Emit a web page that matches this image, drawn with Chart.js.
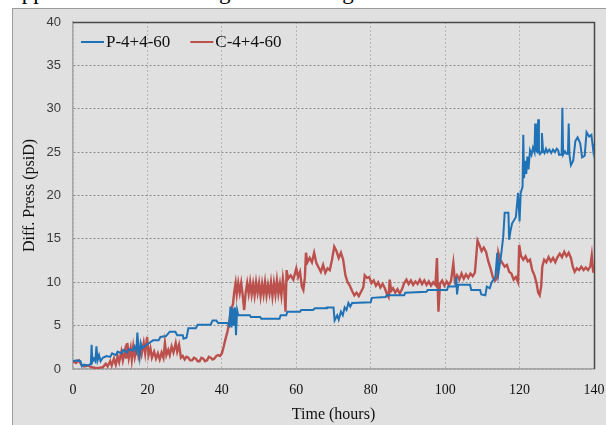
<!DOCTYPE html>
<html>
<head>
<meta charset="utf-8">
<script src="https://cdn.jsdelivr.net/npm/chart.js@4"></script>
<style>
  html, body { margin: 0; padding: 0; background: #ffffff; }
  body { width: 606px; height: 425px; position: relative; overflow: hidden; }
  #caption {
    position: absolute; left: 0; top: -21px; height: 26px; line-height: 26px;
    font: 23px "Liberation Serif", serif; color: #000; white-space: nowrap;
  }
  #frame {
    position: absolute; left: 12px; top: 8px; width: 600px; height: 430px;
    background: #e0e0e0; border: 1px solid #9c9c9c;
  }
  #c { position: absolute; left: 0; top: 0; }
</style>
</head>
<body>
<div id="caption">copper base without magnetic coverage.</div>
<div id="frame"></div>
<canvas id="c" width="606" height="425"></canvas>
<script>
// Series labels
const seriesNames = ['P-4+4-60', 'C-4+4-60'];

// P-4+4-60: time (hours) and differential pressure (psiD)
const pTime = [0, 1, 2, 2.4, 3, 4, 4.8, 5.0, 5.2, 5.6, 6.0, 6.3, 6.6, 7.0, 7.4, 8.0, 9.0, 10.0, 10.5, 11.5,
  12.0, 13.0, 13.5, 14.5, 15.0, 16.0, 16.5, 17.0, 17.3, 17.6, 17.9, 18.2, 18.6, 19.5, 20.5, 21.5, 23.0, 23.5, 25.0, 26.0,
  27.5, 28.0, 29.5, 29.7, 30.5, 31.0, 33.0, 33.5, 37.0, 37.5, 38.5, 39.0, 41.5, 42.0, 42.3, 42.6, 42.9, 43.2, 43.5, 43.8,
  44.1, 44.4, 47.5, 47.8, 50.3, 50.6, 55.5, 55.8, 57.3, 57.6, 61.0, 61.3, 64.5, 65.0, 68.0, 68.2, 70.0, 70.3, 71.0, 71.4,
  72.0, 72.5, 73.0, 73.5, 74.0, 74.5, 75.0, 80.0, 80.3, 84.0, 84.3, 89.0, 89.3, 95.0, 95.3, 100.5, 100.8, 102.8, 103.0, 103.2,
  103.5, 106.7, 107.0, 109.4, 109.7, 110.8, 111.2, 112.0, 112.5, 113.5, 114.0, 114.3, 115.0, 115.6, 116.0, 117.0, 117.2, 117.6, 118.0, 119.0,
  119.6, 120.0, 120.3, 120.8, 121.0, 121.2, 121.5, 121.8, 122.1, 122.4, 122.8, 123.2, 123.6, 124.0, 124.2, 124.4, 124.8, 125.0, 125.2, 125.5,
  125.8, 126.0, 126.3, 126.7, 127.1, 127.5, 128.0, 128.5, 129.0, 129.5, 130.0, 130.4, 130.6, 131.3, 131.5, 131.7, 132.2, 132.6, 133.0, 133.2,
  133.4, 133.8, 134.4, 135.0, 135.6, 136.3, 136.8, 137.5, 138.0, 138.7, 139.3, 139.8, 140.0];
const pVal = [0.9, 1.0, 0.9, 0.3, 0.5, 0.4, 0.6, 2.8, 0.8, 1.2, 0.9, 2.6, 1.0, 1.6, 0.9, 1.3, 1.5, 1.4, 1.8, 1.6,
  2.0, 1.8, 2.2, 1.9, 2.3, 2.1, 2.6, 2.0, 4.2, 2.4, 1.4, 3.0, 2.4, 2.7, 3.0, 3.3, 3.3, 3.7, 3.8, 4.3,
  4.3, 3.9, 3.9, 3.5, 3.6, 4.7, 4.7, 5.1, 5.1, 5.6, 5.6, 5.3, 5.3, 5.0, 7.2, 4.8, 7.0, 5.0, 7.1, 3.9,
  6.8, 6.2, 6.2, 6.0, 6.0, 5.8, 5.8, 6.2, 6.2, 6.6, 6.6, 6.8, 6.8, 7.0, 7.0, 7.1, 7.1, 5.6, 6.2, 5.7,
  6.6, 6.2, 7.1, 6.8, 7.6, 7.2, 7.6, 7.7, 8.2, 8.3, 8.5, 8.5, 8.8, 8.9, 9.1, 9.1, 9.5, 9.5, 10.6, 8.6,
  9.7, 9.7, 9.1, 9.1, 8.6, 8.5, 9.5, 9.3, 10.0, 10.6, 13.4, 11.0, 13.0, 15.2, 18.0, 18.0, 14.9, 16.0, 16.8, 17.5,
  20.3, 17.0, 20.3, 21.0, 27.0, 22.0, 24.0, 22.5, 24.5, 23.0, 25.2, 24.7, 25.5, 25.0, 28.3, 25.2, 25.0, 28.8, 25.2, 24.8,
  25.0, 27.2, 25.2, 24.9, 25.4, 25.0, 25.3, 24.9, 25.3, 25.0, 25.4, 25.2, 24.7, 24.7, 30.1, 24.7, 25.1, 24.8, 24.8, 28.3,
  24.7, 23.5, 24.0, 26.3, 26.7, 26.0, 24.4, 24.6, 27.3, 26.8, 27.0, 25.2, 26.0];

// C-4+4-60: time (hours) and differential pressure (psiD)
const cTime = [0, 0.8, 1.6, 2.2, 3.0, 4.0, 5.0, 6.5, 8.0, 8.8, 9.3, 10.0, 10.4, 11.0, 11.5, 12.0, 12.4, 13.0, 13.4, 14.0,
  14.3, 14.6, 15.0, 15.5, 15.8, 16.2, 16.6, 17.2, 17.6, 18.0, 18.4, 19.0, 19.4, 19.9, 20.3, 20.8, 21.2, 21.8, 22.3, 22.8,
  23.3, 23.8, 24.3, 24.7, 25.1, 25.6, 26.0, 26.5, 27.0, 27.6, 28.0, 28.5, 29.0, 29.5, 30.0, 30.5, 31.0, 31.5, 32.0, 32.5,
  33.0, 33.5, 34.0, 34.5, 35.0, 35.5, 36.0, 36.5, 37.0, 37.5, 38.0, 38.5, 39.0, 39.5, 40.0, 40.5, 41.0, 41.5, 42.0, 42.5,
  43.0, 43.3, 43.7, 44.0, 44.4, 44.8, 45.2, 45.6, 46.0, 46.4, 46.8, 47.2, 47.6, 48.0, 48.4, 48.8, 49.2, 49.6, 50.0, 50.4,
  50.8, 51.2, 51.6, 52.0, 52.4, 52.8, 53.2, 53.6, 54.0, 54.4, 54.8, 55.2, 55.6, 56.0, 56.4, 56.8, 57.1, 57.4, 57.8, 58.5,
  59.2, 60.0, 60.5, 61.0, 61.5, 61.9, 62.3, 62.6, 63.0, 63.6, 64.2, 64.8, 65.4, 66.0, 66.6, 67.2, 67.8, 68.4, 69.0, 69.6,
  70.2, 70.8, 71.4, 72.0, 72.6, 73.2, 73.8, 74.4, 75.0, 75.6, 76.2, 76.8, 77.4, 78.0, 78.4, 79.0, 79.6, 80.2, 80.8, 81.4,
  82.0, 82.6, 83.2, 83.8, 84.4, 84.8, 85.1, 85.5, 86.0, 86.6, 87.2, 87.8, 88.4, 89.0, 89.6, 90.2, 90.8, 91.4, 92.0, 92.6,
  93.2, 93.8, 94.4, 95.0, 95.6, 96.2, 96.8, 97.4, 97.8, 98.2, 98.6, 99.2, 99.8, 100.4, 101.0, 101.6, 102.2, 102.6, 103.2, 103.8,
  104.4, 105.0, 105.6, 106.2, 106.8, 107.4, 108.0, 108.7, 109.2, 109.8, 110.4, 111.0, 111.6, 112.2, 112.8, 113.4, 114.0, 114.3, 114.8, 115.4,
  116.0, 116.6, 117.2, 117.8, 118.4, 119.0, 119.6, 119.9, 120.4, 121.0, 121.6, 122.2, 122.8, 123.4, 124.0, 124.6, 125.0, 125.4, 125.8, 126.1,
  126.6, 127.2, 127.8, 128.4, 129.0, 129.6, 130.2, 130.8, 131.4, 132.0, 132.6, 133.2, 133.8, 134.3, 134.8, 135.4, 136.0, 136.6, 137.2, 137.8,
  138.4, 139.0, 139.4, 139.8, 140.0];
const cVal = [0.9, 0.7, 1.0, 0.5, 0.3, 0.4, 0.2, 0.1, 0.2, 0.6, 0.3, 0.9, 0.4, 1.2, 0.5, 1.5, 0.8, 2.0, 1.0, 2.2,
  1.2, 3.0, 1.3, 2.4, 1.1, 2.6, 1.4, 2.8, 1.5, 2.2, 1.6, 3.0, 1.8, 3.7, 1.6, 2.4, 1.3, 2.0, 1.2, 1.8,
  1.1, 1.9, 1.3, 3.0, 1.6, 2.2, 1.6, 2.6, 1.9, 3.0, 2.0, 2.8, 1.3, 1.5, 1.1, 1.4, 1.3, 1.0, 1.0, 1.3,
  1.2, 0.9, 0.9, 1.3, 1.2, 0.9, 1.0, 1.4, 1.3, 1.1, 1.2, 1.5, 1.6, 1.5, 1.8, 2.6, 3.5, 4.3, 5.5, 6.8,
  7.5, 8.8, 9.9, 8.6, 9.9, 8.8, 9.9, 8.5, 6.8, 8.8, 9.9, 8.7, 10.0, 8.6, 9.8, 8.5, 10.0, 8.8, 9.9, 8.4,
  9.8, 8.6, 10.0, 8.5, 9.7, 8.7, 10.0, 8.4, 9.9, 8.6, 10.2, 8.7, 9.8, 8.5, 10.4, 9.0, 6.6, 11.4, 10.4, 10.8,
  10.3, 11.6, 10.6, 11.2, 9.5, 9.1, 10.5, 13.4, 12.3, 12.8, 12.3, 13.4, 12.2, 11.7, 11.2, 12.0, 11.1, 11.6, 11.4, 12.6,
  14.1, 13.6, 12.8, 13.4, 12.6, 10.8, 10.0, 9.6, 9.0, 8.5, 8.8, 8.4, 8.9, 9.4, 10.8, 10.5, 10.6, 9.9, 10.2, 9.6,
  10.0, 9.4, 9.8, 9.3, 8.6, 8.3, 10.3, 9.0, 9.3, 8.8, 9.2, 8.7, 9.2, 9.9, 10.3, 9.8, 10.2, 9.7, 10.1, 9.8,
  10.3, 9.8, 10.2, 9.7, 10.1, 9.6, 10.0, 9.7, 12.8, 6.6, 9.8, 10.2, 9.6, 10.1, 9.7, 10.2, 12.2, 10.2, 10.8, 10.3,
  11.0, 10.4, 10.9, 10.5, 11.0, 10.7, 11.1, 14.8, 14.3, 13.6, 14.0, 13.5, 12.4, 11.6, 10.6, 10.2, 10.5, 13.4, 12.6, 12.2,
  11.8, 12.0, 11.2, 11.0, 10.3, 10.6, 10.0, 14.3, 13.0, 12.6, 13.0, 12.4, 12.6, 11.4, 10.8, 9.8, 8.8, 8.5, 9.5, 11.8,
  12.6, 12.3, 12.9, 12.4, 12.8, 12.3, 12.9, 13.3, 12.9, 13.5, 13.0, 13.4, 12.8, 11.8, 11.2, 11.6, 11.4, 11.8, 11.4, 11.7,
  11.4, 11.8, 13.1, 11.1, 12.0];

// Axis settings
const xTicks = [0, 20, 40, 60, 80, 100, 120, 140];
const yTicks = [0, 5, 10, 15, 20, 25, 30, 35, 40];
const xTitle = 'Time (hours)';
const yTitle = 'Diff. Press (psiD)';

const toPoints = (xs, ys) => xs.map((x, i) => ({ x: x, y: ys[i] }));

// Dark frame on the top and right edges of the plot area
const plotFrame = {
  id: 'plotFrame',
  beforeDatasetsDraw(chart) {
    const { ctx, chartArea: a } = chart;
    ctx.save();
    ctx.strokeStyle = '#4a4a4a';
    ctx.lineWidth = 1.5;
    ctx.beginPath();
    ctx.moveTo(a.left, a.top + 0.5);
    ctx.lineTo(a.right + 0.5, a.top + 0.5);
    ctx.lineTo(a.right + 0.5, a.bottom);
    ctx.stroke();
    ctx.restore();
  }
};

// Legend drawn inside the plot, top-left corner
const innerLegend = {
  id: 'innerLegend',
  afterDatasetsDraw(chart) {
    const { ctx, chartArea: a } = chart;
    ctx.save();
    ctx.font = '17px "Liberation Serif"';
    ctx.textBaseline = 'middle';
    ctx.textAlign = 'left';
    let x = a.left + 8;
    const y = a.top + 20;
    chart.data.datasets.forEach(ds => {
      ctx.strokeStyle = ds.borderColor;
      ctx.lineWidth = 2;
      ctx.beginPath();
      ctx.moveTo(x, y);
      ctx.lineTo(x + 23, y);
      ctx.stroke();
      x += 25;
      ctx.fillStyle = '#111111';
      ctx.fillText(ds.label, x, y + 1);
      x += ctx.measureText(ds.label).width + 20;
    });
    ctx.restore();
  }
};

new Chart(document.getElementById('c'), {
  type: 'line',
  data: {
    datasets: [
      {
        label: seriesNames[0],
        data: toPoints(pTime, pVal),
        borderColor: '#1f72b6',
        borderWidth: 2,
        pointRadius: 0,
        tension: 0,
        fill: false
      },
      {
        label: seriesNames[1],
        data: toPoints(cTime, cVal),
        borderColor: '#bc504c',
        borderWidth: 2.4,
        pointRadius: 0,
        tension: 0,
        fill: false
      }
    ]
  },
  options: {
    responsive: false,
    animation: false,
    devicePixelRatio: 1,
    layout: { padding: { left: 12, top: 22, right: 12, bottom: 0 } },
    plugins: { legend: { display: false }, tooltip: { enabled: false } },
    scales: {
      x: {
        type: 'linear',
        min: 0, max: 140,
        afterBuildTicks: s => { s.ticks = xTicks.map(v => ({ value: v })); },
        afterFit: s => { s.height = 56; s.paddingLeft = 0; s.paddingRight = 0; },
        ticks: {
          padding: 13,
          color: '#111111',
          font: { family: 'Liberation Serif', size: 14 }
        },
        grid: { color: '#b4b4b4', lineWidth: 1, drawTicks: false },
        border: { color: '#a6a6a6', width: 1.5, dash: [2, 2] },
        title: {
          display: true, text: xTitle, color: '#111111',
          font: { family: 'Liberation Serif', size: 16 },
          padding: { top: 0, bottom: 1 }
        }
      },
      y: {
        min: 0, max: 40,
        afterBuildTicks: s => { s.ticks = yTicks.map(v => ({ value: v })); },
        afterFit: s => { s.width = 61; s.paddingTop = 0; s.paddingBottom = 0; },
        ticks: {
          padding: 12,
          color: '#3a3a3a',
          font: { family: 'Liberation Sans', size: 13 }
        },
        grid: { color: '#8a8a8a', lineWidth: 1, drawTicks: false },
        border: { color: '#a6a6a6', width: 1.5, dash: [2, 2] },
        title: {
          display: true, text: yTitle, color: '#111111',
          font: { family: 'Liberation Serif', size: 16 },
          padding: { top: 8, bottom: 0 }
        }
      }
    }
  },
  plugins: [plotFrame, innerLegend]
});
</script>
</body>
</html>
